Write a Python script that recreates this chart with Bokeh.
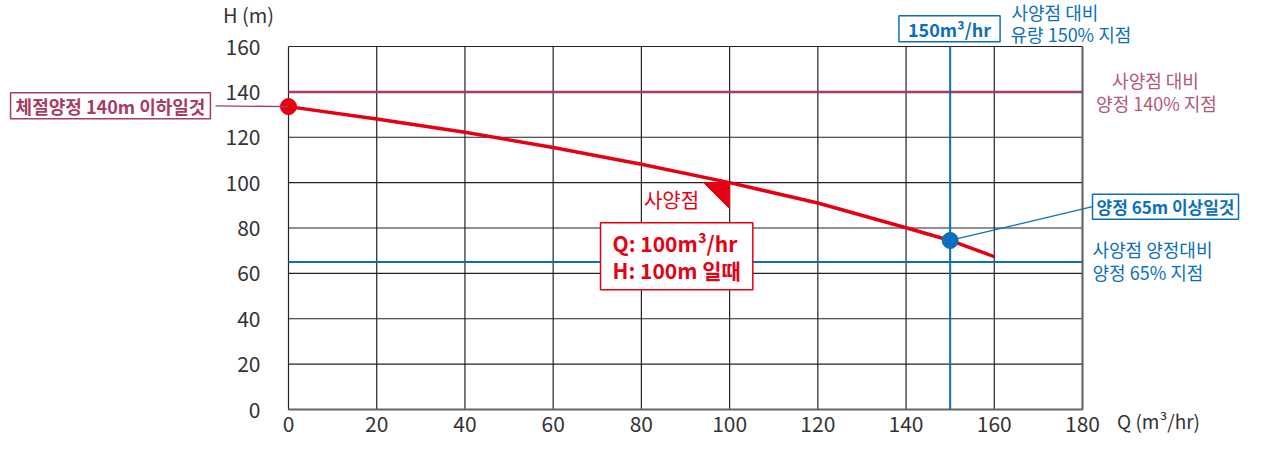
from bokeh.plotting import figure
from bokeh.models import Range1d, FixedTicker, Label, Arrow
from bokeh.embed import file_html
from bokeh.resources import INLINE

# ---- data ----
Q = [0, 20, 40, 60, 80, 100, 120, 140, 150, 160]
H = [133.5, 128, 122.2, 115.5, 108.1, 100, 91, 80.1, 74.5, 67.4]
x_ticks = [0, 20, 40, 60, 80, 100, 120, 140, 160, 180]
y_ticks = [0, 20, 40, 60, 80, 100, 120, 140, 160]
Q_spec, H_spec = 100, 100
H_shutoff_limit = 140
H_min_limit = 65
Q_150 = 150
H_at_150 = 74.5

RED = "#e60012"
MAROON = "#a63c60"
MAROON_LIGHT = "#b3567a"
BLUE = "#0b6fbd"
GRAY = "#333333"
FONT = "Noto Sans CJK KR"

W, HGT = 1247, 436
FL, FT, FW, FH = 288, 46, 794, 363   # pixel box of the 0..180 x 0..160 area
SX, SY = FW / 180, FH / 160


def ry(y_ref):
    """map a vertical pixel position of the reference layout to this canvas"""
    return FT + (y_ref - 54) * FH / 367


p = figure(width=W, height=HGT, output_backend="svg", toolbar_location=None,
           x_range=Range1d(-FL / SX, (W - FL) / SX),
           y_range=Range1d(160 - (HGT - FT) / SY, 160 + FT / SY),
           min_border=0, min_border_left=0, min_border_right=0,
           min_border_top=0, min_border_bottom=0)
p.background_fill_color = "white"
p.border_fill_color = "white"
p.outline_line_color = None
p.xgrid.visible = False
p.ygrid.visible = False

for ax, ticks in ((p.xaxis, x_ticks), (p.yaxis, y_ticks)):
    ax.ticker = FixedTicker(ticks=ticks)
    ax.fixed_location = 0
    ax.bounds = (ticks[0], ticks[-1])
    ax.axis_line_color = None
    ax.major_tick_line_color = None
    ax.minor_tick_line_color = None
    ax.major_label_text_font = FONT
    ax.major_label_text_font_size = "21px"
    ax.major_label_text_color = GRAY
p.xaxis.major_label_standoff = 0
p.yaxis.major_label_standoff = 22

# grid
n_x, n_y = len(x_ticks), len(y_ticks)
p.segment(x0=x_ticks, y0=[y_ticks[0]] * n_x, x1=x_ticks, y1=[y_ticks[-1]] * n_x,
          line_color="#222222", line_width=1.2, level="underlay")
p.segment(x0=[x_ticks[0]] * n_y, y0=y_ticks, x1=[x_ticks[-1]] * n_y, y1=y_ticks,
          line_color="#222222", line_width=1.2, level="underlay")
# frame edges right / bottom (slightly heavier, gray)
p.segment(x0=[x_ticks[-1], x_ticks[0]], y0=[y_ticks[0], y_ticks[0]],
          x1=[x_ticks[-1], x_ticks[-1]], y1=[y_ticks[-1], y_ticks[0]],
          line_color="#666666", line_width=2, level="underlay")

# reference lines
p.line([x_ticks[0], x_ticks[-1]], [H_shutoff_limit] * 2, line_color=MAROON, line_width=2.5)
p.line([x_ticks[0], x_ticks[-1]], [H_min_limit] * 2, line_color=BLUE, line_width=2)
p.line([Q_150] * 2, [y_ticks[0], y_ticks[-1]], line_color=BLUE, line_width=2)

# pump curve
p.line(Q, H, line_color=RED, line_width=3.5)

# spec point marker (right triangle)
tri_dx, tri_dy = 26 / SX, 26 / SY
p.patch([Q_spec - tri_dx, Q_spec, Q_spec], [H_spec, H_spec, H_spec - tri_dy], color=RED)

# leader lines (box edge in canvas px, point in data)
p.add_layout(Arrow(end=None, x_start=215, y_start=ry(114), start_units="canvas",
                   x_end=Q[0], y_end=H[0],
                   line_color=MAROON, line_width=1.3))
p.add_layout(Arrow(end=None, x_start=Q_150, y_start=H_at_150,
                   x_end=1092, y_end=ry(216), end_units="canvas",
                   line_color=BLUE, line_width=1.3))

# dots
p.scatter([Q[0]], [H[0]], size=16, color=RED)
p.scatter([Q_150], [H_at_150], size=16, color=BLUE)


def lab(x, y, text, color, size="18px", bold=False, align="left", box=None,
        pad=(10, 0), lh=1.2, raw_y=False):
    kw = {}
    if box:
        kw = dict(border_line_color=box, border_line_width=1.5,
                  background_fill_color="white", padding=pad)
    l = Label(x=x, y=y if raw_y else ry(y), x_units="canvas", y_units="canvas", text=text,
              text_color=color, text_font=FONT, text_line_height=lh,
              text_font_size=size, text_font_style="bold" if bold else "normal",
              text_align=align, text_baseline="middle", **kw)
    p.add_layout(l)


# axis titles
lab(248, 22, "H (m)", GRAY, size="20px", align="center")
lab(1158, 420, "Q (m³/hr)", GRAY, size="19px", align="center", raw_y=True)

# annotations
lab(110, 114, "체절양정 140m 이하일것", MAROON, bold=True, align="center", box=MAROON, pad=(5, 0))
lab(949, 36, "150m³/hr", BLUE, bold=True, align="center", box=BLUE, pad=(9, 0))
lab(1011, 19, "사양점 대비", BLUE)
lab(1010, 41, "유량 150% 지점", BLUE)
lab(1155, 88, "사양점 대비", MAROON_LIGHT, align="center")
lab(1156, 111, "양정 140% 지점", MAROON_LIGHT, align="center")
lab(1092, 216, "양정 65m 이상일것", BLUE, size="17px", bold=True, align="left",
    box=BLUE, pad=(4, 0))
lab(1092, 259, "사양점 양정대비", BLUE)
lab(1092, 282, "양정 65% 지점", BLUE)
lab(671, 209, "사양점", RED, size="20px", align="center")
lab(600, 266, "Q: 100m³/hr\nH: 100m 일때", RED, size="21px", bold=True,
    align="left", box=RED, pad=(12, 5), lh=0.9)

open("out.html", "w").write(file_html(p, INLINE))
